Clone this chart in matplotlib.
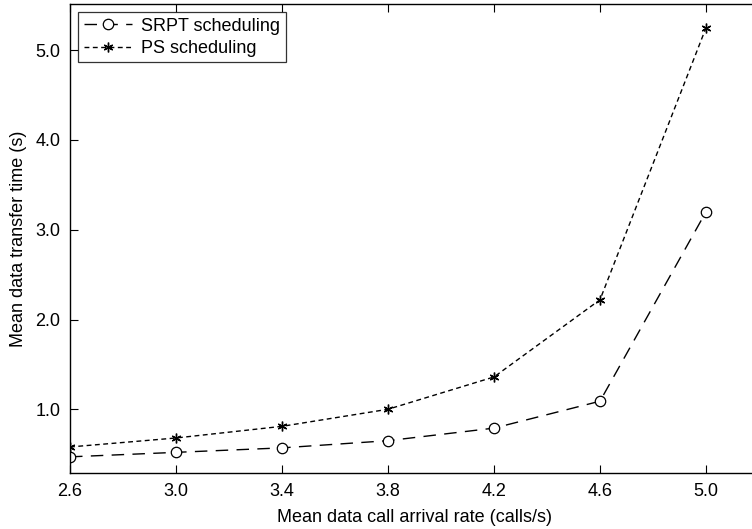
import matplotlib
matplotlib.use("Agg")
import matplotlib.pyplot as plt

plt.rcParams['font.family'] = ['Liberation Sans', 'DejaVu Sans']

arrival_rate = [2.6, 3.0, 3.4, 3.8, 4.2, 4.6, 5.0]
srpt_time = [0.47, 0.52, 0.57, 0.65, 0.79, 1.09, 3.20]
ps_time = [0.58, 0.68, 0.81, 1.00, 1.36, 2.22, 5.25]
xticks = [2.6, 3.0, 3.4, 3.8, 4.2, 4.6, 5.0]
yticks = [1.0, 2.0, 3.0, 4.0, 5.0]

fig = plt.figure(figsize=(7.52, 5.29), dpi=100)
W, H = 752, 529
left, right, top, bottom = 70, 759, 4, 473
ax = fig.add_axes([left / W, 1 - bottom / H, (right - left) / W, (bottom - top) / H])

ax.plot(arrival_rate, srpt_time, color='black', lw=1.0, dashes=(9, 6),
        marker='o', markersize=7.5, markerfacecolor='white', markeredgecolor='black',
        markeredgewidth=0.9, label='SRPT scheduling')
ax.plot(arrival_rate, ps_time, color='black', lw=1.0, dashes=(3.5, 2.5),
        marker=(6, 2, 0), markersize=7, markeredgewidth=1.0, markeredgecolor='black',
        label='PS scheduling')

ax.set_xlim(2.6, 5.2)
ax.set_ylim(0.29, 5.515)
ax.set_xticks(xticks)
ax.set_xticklabels([f"{v:.1f}" for v in xticks])
ax.set_yticks(yticks)
ax.set_yticklabels([f"{v:.1f}" for v in yticks])
ax.tick_params(direction='in', length=6, width=0.8, top=True, right=False,
               labelsize=13, pad=7)
for s in ax.spines.values():
    s.set_linewidth(1.0)

ax.set_xlabel('Mean data call arrival rate (calls/s)', fontsize=13, labelpad=7)
ax.set_ylabel('Mean data transfer time (s)', fontsize=13, labelpad=6)

leg = ax.legend(loc='upper left', fontsize=13, frameon=True, fancybox=False,
                edgecolor='black', borderaxespad=0.45, handlelength=2.7,
                handletextpad=0.5, borderpad=0.3, labelspacing=0.3)
leg.get_frame().set_linewidth(0.9)

fig.savefig('out.png', dpi=100)
